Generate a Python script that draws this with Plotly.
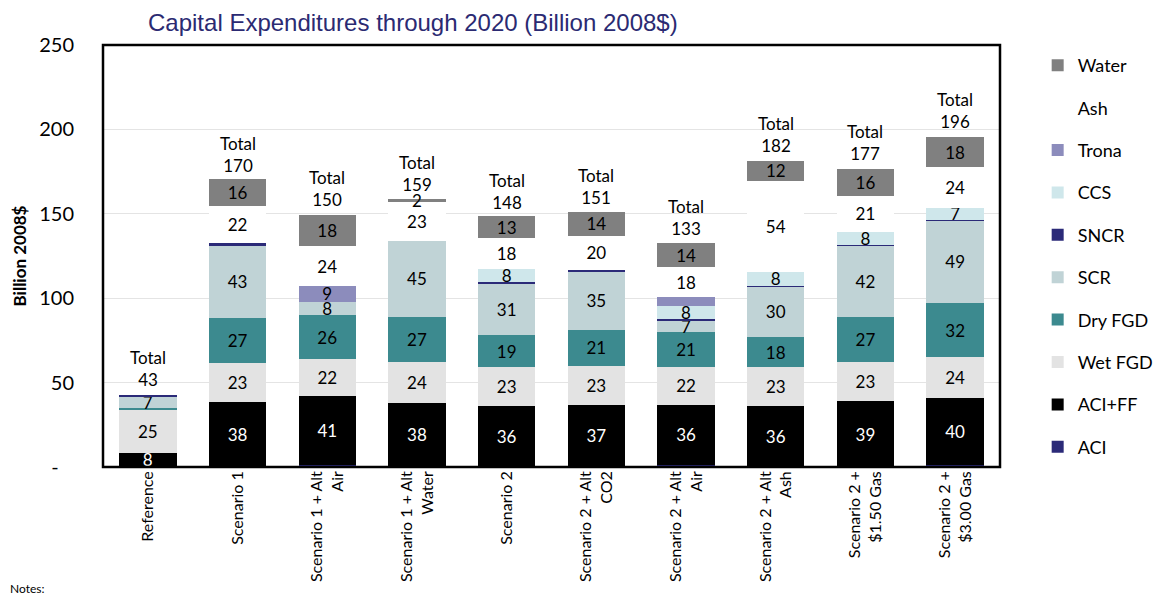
import plotly.graph_objects as go

categories = ["Reference", "Scenario 1", "Scenario 1 + Alt<br>Air", "Scenario 1 + Alt<br>Water",
              "Scenario 2", "Scenario 2 + Alt<br>CO2", "Scenario 2 + Alt<br>Air",
              "Scenario 2 + Alt<br>Ash", "Scenario 2 +<br>$1.50 Gas", "Scenario 2 +<br>$3.00 Gas"]

aci     = [0.5, 0.5, 1, 0, 0, 0, 1, 0, 0, 1]
aci_ff  = [8, 38, 41, 38, 36, 37, 36, 36, 39, 40]
wet_fgd = [25, 23, 22, 24, 23, 23, 22, 23, 23, 24]
dry_fgd = [1.5, 27, 26, 27, 19, 21, 21, 18, 27, 32]
scr     = [7, 43, 8, 45, 31, 35, 7, 30, 42, 49]
sncr    = [0.5, 1, 0, 0, 0.5, 1, 0.5, 0.5, 0.5, 0.5]
ccs     = [0, 0, 0, 0, 8, 0, 8, 8, 8, 7]
trona   = [0, 0, 9, 0, 0, 0, 5, 0, 0, 0]
ash     = [0, 22, 24, 23, 18, 20, 18, 54, 21, 24]
water   = [0, 16, 18, 2, 13, 14, 14, 12, 16, 18]
totals  = [43, 170, 150, 159, 148, 151, 133, 182, 177, 196]

y_tickvals = [0, 50, 100, 150, 200, 250]
y_ticktext = ["-\u00a0\u00a0\u00a0", "50", "100", "150", "200", "250"]

# labels shown inside the segments ("" = not labelled)
trona_labels = ["", "", "9", "", "", "", "", "", "", ""]

FONT = "Lato"

series = [
    ("ACI", aci, "#2B2A78", "black", None),
    ("ACI+FF", aci_ff, "#000000", "white", None),
    ("Wet FGD", wet_fgd, "#E3E3E3", "black", None),
    ("Dry FGD", dry_fgd, "#3C8A8F", "black", None),
    ("SCR", scr, "#C0D3D6", "black", None),
    ("SNCR", sncr, "#2B2A78", "black", None),
    ("CCS", ccs, "#CFE7EB", "black", None),
    ("Trona", trona, "#8C8CBC", "black", trona_labels),
    ("Ash", ash, "#FFFFFF", "black", None),
    ("Water", water, "#808080", "black", None),
]

fig = go.Figure()
n = len(series)
for i, (name, vals, color, tcolor, labels) in enumerate(series):
    if labels is None:
        labels = [f"{v:.0f}" if v >= 2 else "" for v in vals]
    fig.add_trace(go.Bar(
        name=name, x=categories, y=vals, marker_color=color,
        marker_line_width=0, width=0.64,
        text=labels, textposition="inside", insidetextanchor="middle",
        textangle=0, textfont=dict(color=tcolor, size=17, family=FONT),
        legendgroup=name, legendrank=100 + (n - i), hoverinfo="x+y+name",
    ))

for c, t in zip(categories, totals):
    fig.add_annotation(x=c, y=t, text=f"Total<br>{t}", showarrow=False,
                       yanchor="bottom", yshift=2,
                       font=dict(size=17, family=FONT, color="black"))

fig.add_annotation(xref="paper", yref="paper", x=-0.106, y=-0.287, xanchor="left",
                   yanchor="middle", text="Notes:", showarrow=False,
                   font=dict(size=12, family=FONT, color="black"))

fig.add_shape(type="rect", xref="paper", yref="paper", x0=0, x1=1, y0=0, y1=1,
              line=dict(color="black", width=2.5))

fig.update_layout(
    barmode="stack", bargap=0.36,
    width=1170, height=594,
    margin=dict(l=95, r=178, t=37, b=135, autoexpand=False),
    plot_bgcolor="white", paper_bgcolor="white",
    font=dict(family=FONT, color="black"),
    title=dict(text="Capital Expenditures through 2020 (Billion 2008$)",
               x=140/1170, xanchor="left", y=1 - 15/594, yanchor="middle", yref="container",
               font=dict(family="Liberation Sans", size=24, color="#2B2A72")),
    uniformtext=dict(mode="show", minsize=17),
    legend=dict(x=1.042, xanchor="left", y=1 - 39/594, yanchor="top", yref="container",
                maxheight=560,
                traceorder="grouped", tracegroupgap=16,
                font=dict(size=18, family=FONT, color="black"),
                bgcolor="rgba(0,0,0,0)"),
    xaxis=dict(tickangle=-90, tickfont=dict(size=16, family=FONT),
               showgrid=False, ticks=""),
    yaxis=dict(range=[0, 250], tickvals=y_tickvals, ticktext=y_ticktext,
               tickfont=dict(size=20, family=FONT), showgrid=True,
               gridcolor="#E4E4E4", gridwidth=1, zeroline=False,
               ticklabelstandoff=28,
               title=dict(text="<b>Billion 2008$</b>", font=dict(size=17, family=FONT),
                          standoff=8)),
)

fig.write_html("out.html")
